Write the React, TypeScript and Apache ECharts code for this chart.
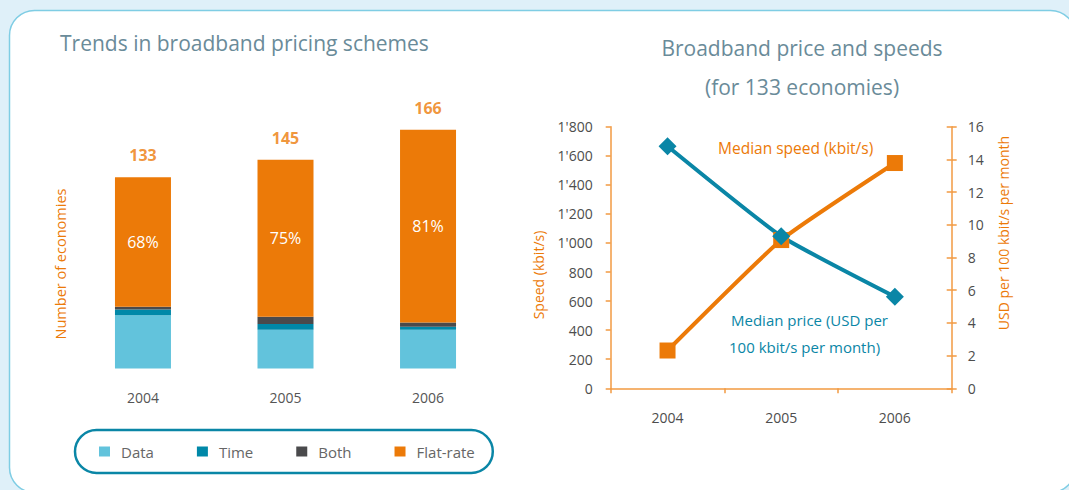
import React, { useEffect, useRef } from "react";
import * as echarts from "echarts";

const years = ["2004", "2005", "2006"];
const dataCounts = [37, 27, 27];
const timeCounts = [4, 4, 2];
const bothCounts = [2, 5, 3];
const flatCounts = [90, 109, 134];
const totals = [133, 145, 166];
const flatShares = ["68%", "75%", "81%"];

const speedKbit = [260, 1020, 1550];
const priceUsd = [14.8, 9.3, 5.6];

const speedTicks = [0, 1800, 200];
const priceTicks = [0, 16, 2];

const FONT = "Open Sans";
const ORANGE = "#ec7a08";
const AXIS_ORANGE = "#f29a42";
const TEAL = "#0a86a6";
const TITLE = "#6a8b99";

function fmtThousands(v: number): string {
  if (v >= 1000) {
    const k = Math.floor(v / 1000);
    const r = String(v % 1000).padStart(3, "0");
    return k + "'" + r;
  }
  return String(v);
}

function txt(text: string, x: number, y: number, color: string, size: number, align: string, weight: any = "normal", rot = 0) {
  return {
    type: "text",
    z: 100,
    x,
    y,
    rotation: rot,
    style: {
      text,
      x: 0,
      y: 0,
      fill: color,
      fontSize: size,
      fontFamily: FONT,
      fontWeight: weight,
      textAlign: align,
      textVerticalAlign: "middle",
    },
  };
}

export default function App() {
  const ref = useRef<HTMLDivElement>(null);
  useEffect(() => {
    if (!ref.current) return;
    const chart = echarts.init(ref.current, undefined, { renderer: "svg" });
    const option: any = {
      animation: false,
      backgroundColor: "#dff0f9",
      textStyle: { fontFamily: FONT },
      graphic: [
        {
          type: "rect",
          z: -100,
          shape: { x: 9.5, y: 10.5, width: 1066, height: 482, r: 25 },
          style: { fill: "#ffffff", stroke: "#7fcde4", lineWidth: 1.5 },
        },
        txt("Trends in broadband pricing schemes", 60, 43, TITLE, 21, "left", 500),
        txt("Broadband price and speeds", 802, 48, TITLE, 21, "center", 500),
        txt("(for 133 economies)", 802, 87, TITLE, 21, "center", 500),
        txt("Number of economies", 60, 264, ORANGE, 14.5, "center", "normal", Math.PI / 2),
        txt("Speed (kbit/s)", 538, 275, ORANGE, 14, "center", "normal", Math.PI / 2),
        txt("USD per 100 kbit/s per month", 1003, 233, ORANGE, 14, "center", "normal", Math.PI / 2),
        txt("Median speed (kbit/s)", 718, 148, ORANGE, 15.5, "left"),
        txt("Median price (USD per", 731, 320, TEAL, 15, "left"),
        txt("100 kbit/s per month)", 729, 347, TEAL, 15, "left"),
      ],
      legend: {
        data: ["Data", "Time", "Both", "Flat-rate"],
        left: 75,
        top: 430,
        icon: "rect",
        itemWidth: 11,
        itemHeight: 10,
        itemGap: 43,
        padding: [14, 18, 14, 24],
        borderColor: TEAL,
        borderWidth: 2.5,
        borderRadius: 23,
        textStyle: { color: "#666666", fontSize: 15, padding: [0, 0, 0, 6], fontFamily: FONT },
      },
      grid: [
        { left: 71.7, top: 109.5, width: 427.6, height: 259 },
        { left: 610.7, top: 126.7, width: 341, height: 261.6 },
      ],
      xAxis: [
        {
          type: "category", gridIndex: 0, data: years,
          axisLine: { show: false }, axisTick: { show: false },
          axisLabel: { color: "#555555", fontSize: 14, margin: 22 },
        },
        {
          type: "category", gridIndex: 1, data: years, boundaryGap: true,
          axisLine: { lineStyle: { color: AXIS_ORANGE, width: 1.5 } },
          axisTick: { show: true, length: 5, interval: 0, lineStyle: { color: AXIS_ORANGE, width: 1.5 } },
          axisLabel: { color: "#4d4d4d", fontSize: 14, margin: 22 },
        },
      ],
      yAxis: [
        { type: "value", gridIndex: 0, min: 0, max: 180, show: false },
        {
          type: "value", gridIndex: 1, position: "left",
          min: speedTicks[0], max: speedTicks[1], interval: speedTicks[2],
          splitLine: { show: false },
          axisLine: { show: true, lineStyle: { color: AXIS_ORANGE, width: 1.5 } },
          axisTick: { show: true, length: 5, lineStyle: { color: AXIS_ORANGE, width: 1.5 } },
          axisLabel: { color: "#4d4d4d", fontSize: 14, margin: 18, formatter: (v: number) => fmtThousands(v) },
        },
        {
          type: "value", gridIndex: 1, position: "right",
          min: priceTicks[0], max: priceTicks[1], interval: priceTicks[2],
          splitLine: { show: false },
          axisLine: { show: true, lineStyle: { color: AXIS_ORANGE, width: 1.5 } },
          axisTick: { show: true, length: 5, lineStyle: { color: AXIS_ORANGE, width: 1.5 } },
          axisLabel: { color: "#4d4d4d", fontSize: 14, margin: 16 },
        },
        {
          type: "value", gridIndex: 1, position: "right",
          min: priceTicks[0], max: priceTicks[1], interval: priceTicks[2],
          splitLine: { show: false },
          axisLine: { show: false },
          axisTick: { show: true, inside: true, length: 5, lineStyle: { color: AXIS_ORANGE, width: 1.5 } },
          axisLabel: { show: false },
        },
      ],
      series: [
        {
          name: "Data", type: "bar", stack: "s", xAxisIndex: 0, yAxisIndex: 0,
          barWidth: 56, data: dataCounts, itemStyle: { color: "#62c3dc" },
        },
        {
          name: "Time", type: "bar", stack: "s", xAxisIndex: 0, yAxisIndex: 0,
          barWidth: 56, data: timeCounts, itemStyle: { color: "#0088a8" },
        },
        {
          name: "Both", type: "bar", stack: "s", xAxisIndex: 0, yAxisIndex: 0,
          barWidth: 56, data: bothCounts, itemStyle: { color: "#4a4a4c" },
        },
        {
          name: "Flat-rate", type: "bar", stack: "s", xAxisIndex: 0, yAxisIndex: 0,
          barWidth: 56, data: flatCounts, itemStyle: { color: ORANGE },
          label: {
            show: true, position: "inside", color: "#ffffff", fontSize: 16,
            fontWeight: 500, fontFamily: FONT,
            formatter: (p: any) => flatShares[p.dataIndex],
          },
        },
        {
          name: "Total", type: "scatter", xAxisIndex: 0, yAxisIndex: 0,
          symbolSize: 0, data: totals, silent: true,
          label: {
            show: true, position: "top", distance: 14, color: ORANGE,
            fontSize: 16, fontWeight: "bold", fontFamily: FONT,
            formatter: (p: any) => String(totals[p.dataIndex]),
          },
        },
        {
          name: "Median speed", type: "line", xAxisIndex: 1, yAxisIndex: 1,
          data: speedKbit, smooth: 0.15, symbol: "rect", symbolSize: 16,
          lineStyle: { color: ORANGE, width: 4 }, itemStyle: { color: ORANGE },
        },
        {
          name: "Median price", type: "line", xAxisIndex: 1, yAxisIndex: 2,
          data: priceUsd, smooth: 0.15, symbol: "diamond", symbolSize: 18,
          lineStyle: { color: TEAL, width: 4 }, itemStyle: { color: TEAL },
        },
      ],
    };
    chart.setOption(option);
    return () => chart.dispose();
  }, []);
  return (
    <div
      ref={ref}
      style={{ position: "absolute", left: 0, top: 0, width: 1069, height: 490 }}
    />
  );
}
